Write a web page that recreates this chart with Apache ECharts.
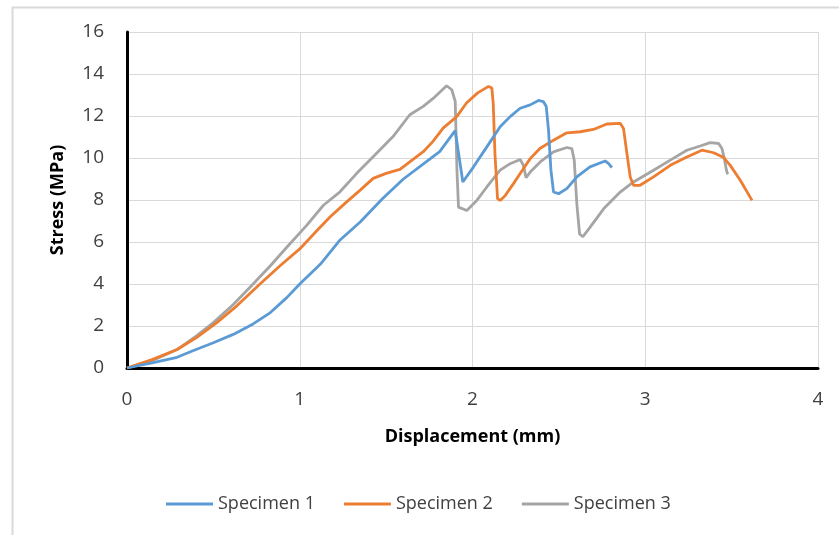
<!DOCTYPE html>
<html>
<head>
<meta charset="utf-8">
<script src="https://cdn.jsdelivr.net/npm/echarts@6/dist/echarts.min.js"></script>
<style>
  html, body { margin: 0; padding: 0; background: #ffffff; }
  #chart { width: 839px; height: 535px; }
</style>
</head>
<body>
<div id="chart"></div>
<script>
// Stress–displacement curves for three test specimens
const seriesNames = ['Specimen 1', 'Specimen 2', 'Specimen 3'];

const disp1 = [0, 0.145, 0.29, 0.385, 0.5, 0.615, 0.73, 0.83, 0.925, 1.0, 1.12, 1.23, 1.35, 1.48, 1.6, 1.697, 1.81, 1.89, 1.9, 1.944, 2.006, 2.083, 2.16, 2.218, 2.276, 2.334, 2.382, 2.41, 2.427, 2.44, 2.454, 2.469, 2.498, 2.546, 2.604, 2.68, 2.768, 2.788, 2.807];
const stress1 = [0, 0.24, 0.51, 0.83, 1.2, 1.6, 2.1, 2.64, 3.35, 4.0, 4.95, 6.07, 6.95, 8.07, 9.0, 9.6, 10.3, 11.2, 11.3, 8.86, 9.58, 10.53, 11.49, 11.97, 12.37, 12.53, 12.74, 12.69, 12.45, 11.33, 9.42, 8.38, 8.3, 8.54, 9.1, 9.58, 9.86, 9.73, 9.54];

const disp2 = [0, 0.145, 0.29, 0.4, 0.52, 0.636, 0.77, 0.886, 1.0, 1.1, 1.175, 1.27, 1.35, 1.425, 1.5, 1.58, 1.637, 1.715, 1.77, 1.83, 1.91, 1.965, 2.03, 2.093, 2.112, 2.12, 2.13, 2.145, 2.16, 2.19, 2.237, 2.276, 2.334, 2.39, 2.469, 2.546, 2.624, 2.7, 2.778, 2.855, 2.874, 2.894, 2.913, 2.932, 2.97, 3.048, 3.145, 3.241, 3.328, 3.396, 3.454, 3.492, 3.55, 3.618];
const stress2 = [0, 0.4, 0.88, 1.44, 2.16, 2.96, 4.0, 4.87, 5.67, 6.55, 7.19, 7.9, 8.47, 9.03, 9.27, 9.46, 9.82, 10.3, 10.78, 11.42, 11.98, 12.62, 13.1, 13.41, 13.33, 12.6, 10.2, 8.06, 7.98, 8.22, 8.78, 9.26, 9.97, 10.45, 10.85, 11.2, 11.25, 11.36, 11.62, 11.65, 11.41, 10.21, 9.1, 8.7, 8.7, 9.1, 9.65, 10.05, 10.37, 10.25, 10.02, 9.65, 8.94, 7.98];

const disp3 = [0, 0.145, 0.29, 0.4, 0.5, 0.617, 0.73, 0.83, 0.925, 1.04, 1.137, 1.233, 1.33, 1.425, 1.54, 1.637, 1.715, 1.774, 1.85, 1.88, 1.9, 1.91, 1.919, 1.967, 2.025, 2.083, 2.16, 2.218, 2.276, 2.295, 2.31, 2.334, 2.392, 2.469, 2.546, 2.575, 2.589, 2.604, 2.62, 2.639, 2.68, 2.759, 2.855, 2.932, 3.048, 3.145, 3.241, 3.318, 3.376, 3.425, 3.444, 3.458, 3.47, 3.477];
const stress3 = [0, 0.35, 0.88, 1.52, 2.16, 3.04, 4.0, 4.87, 5.75, 6.79, 7.75, 8.39, 9.27, 10.06, 11.02, 12.06, 12.46, 12.85, 13.44, 13.25, 12.69, 9.42, 7.66, 7.5, 7.98, 8.62, 9.42, 9.73, 9.93, 9.65, 9.06, 9.33, 9.81, 10.29, 10.5, 10.45, 9.89, 7.82, 6.38, 6.25, 6.7, 7.58, 8.38, 8.86, 9.42, 9.9, 10.37, 10.57, 10.73, 10.69, 10.45, 9.97, 9.42, 9.22];

const xTicks = [0, 1, 2, 3, 4];
const yTicks = [0, 2, 4, 6, 8, 10, 12, 14, 16];
const colors = ['#5B9BD5', '#ED7D31', '#A5A5A5'];

const pairs = (xs, ys) => xs.map((x, i) => [x, ys[i]]);
const curves = [pairs(disp1, stress1), pairs(disp2, stress2), pairs(disp3, stress3)];

const font = '"Open Sans", "Liberation Sans", sans-serif';
const chart = echarts.init(document.getElementById('chart'), null, { renderer: 'canvas' });

chart.setOption({
  animation: false,
  backgroundColor: '#ffffff',
  color: colors,
  graphic: [{
    type: 'rect',
    left: 10, top: 5,
    shape: { width: 900, height: 600 },
    style: { fill: 'none', stroke: '#d9d9d9', lineWidth: 2 },
    z: -1
  }],
  grid: { left: 127, right: 21, top: 32, bottom: 167 },
  xAxis: {
    type: 'value',
    min: xTicks[0], max: xTicks[xTicks.length - 1], interval: 1,
    name: 'Displacement (mm)',
    nameLocation: 'middle',
    nameGap: 60,
    nameTextStyle: { fontFamily: font, fontWeight: 'bold', fontSize: 18, color: '#000000' },
    axisLine: { onZero: false, lineStyle: { color: '#000000', width: 3 } },
    axisTick: { show: false },
    axisLabel: { margin: 22, fontFamily: font, fontSize: 19, color: '#404040' },
    splitLine: { show: true, lineStyle: { color: '#d9d9d9', width: 1 } }
  },
  yAxis: {
    type: 'value',
    min: yTicks[0], max: yTicks[yTicks.length - 1], interval: 2,
    name: 'Stress (MPa)',
    nameLocation: 'middle',
    nameGap: 60,
    nameTextStyle: { fontFamily: font, fontWeight: 'bold', fontSize: 18, color: '#000000' },
    axisLine: { show: true, onZero: false, lineStyle: { color: '#000000', width: 3 } },
    axisTick: { show: false },
    axisLabel: { margin: 23, fontFamily: font, fontSize: 19, color: '#404040' },
    splitLine: { show: true, lineStyle: { color: '#d9d9d9', width: 1 } }
  },
  legend: {
    left: 161, top: 490,
    icon: 'rect',
    itemWidth: 47, itemHeight: 3, itemGap: 29,
    textStyle: { fontFamily: font, fontSize: 18, color: '#404040' },
    data: seriesNames
  },
  series: curves.map((d, i) => ({
    name: seriesNames[i],
    type: 'line',
    data: d,
    symbol: 'none',
    lineStyle: { width: 2.8, color: colors[i] },
    z: 3 - i
  }))
});
</script>
</body>
</html>
